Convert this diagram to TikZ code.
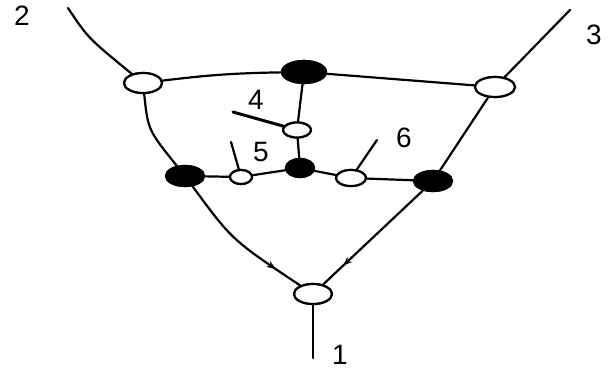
\documentclass[tikz,border=0pt]{standalone}
\usepackage{fontspec}
\setmainfont{Liberation Sans}
\usetikzlibrary{shapes.geometric,decorations.markings,arrows.meta}
\begin{document}
\begin{tikzpicture}[x=1pt,y=-1pt,line width=2.2pt,line cap=round,
  wnode/.style={draw,ellipse,fill=white,inner sep=0pt,line width=2.2pt},
  bnode/.style={draw,ellipse,fill=black,inner sep=0pt,line width=2.2pt},
  lbl/.style={font=\fontsize{28}{30}\selectfont},
  midarrow/.style={postaction={decorate},decoration={markings,mark=at position #1 with {\arrow{Stealth[length=9pt,width=7pt]}}}}]
\useasboundingbox (0,0) rectangle (616,371);
% nodes
\node[wnode,minimum width=38pt,minimum height=20pt] (A) at (143,83) {};
\node[bnode,minimum width=44pt,minimum height=22pt] (B) at (304,72) {};
\node[wnode,minimum width=40pt,minimum height=20pt] (C) at (495,87) {};
\node[wnode,minimum width=28pt,minimum height=15pt] (D) at (297,130) {};
\node[bnode,minimum width=28pt,minimum height=18pt] (E) at (300,168) {};
\node[bnode,minimum width=38pt,minimum height=20pt] (F) at (185,176) {};
\node[wnode,minimum width=22pt,minimum height=14pt] (G) at (241,177) {};
\node[wnode,minimum width=30pt,minimum height=16pt] (H) at (351,178) {};
\node[bnode,minimum width=38pt,minimum height=20pt] (I) at (433,181) {};
\node[wnode,minimum width=38pt,minimum height=20pt] (J) at (313,294) {};
% free ends
\coordinate (s2) at (68,8);
\coordinate (s3) at (570,10);
\coordinate (s1) at (313,358);
\coordinate (p4) at (233,112);
\coordinate (p5) at (231,142);
\coordinate (p6) at (377,140);
% labels
\node[lbl] (l2) at (22,16) {2};
\node[lbl] (l3) at (594,35) {3};
\node[lbl] (l4) at (256,100) {4};
\node[lbl] (l5) at (261,152) {5};
\node[lbl] (l6) at (404,138) {6};
\node[lbl] (l1) at (340,355) {1};
% connectors
\draw (s2) .. controls (88,38) .. (A);
\draw (s3) -- (C);
\draw (A) to[bend left=3] (B);
\draw (B) -- (C);
\draw (B) -- (D);
\draw (D) -- (E);
\draw (E) -- (G);
\draw (G) -- (F);
\draw (E) -- (H);
\draw (H) -- (I);
\draw (A) .. controls (148,130) .. (F);
\draw (C) -- (I);
\draw[midarrow=0.8] (F) .. controls (232,240) .. (J);
\draw[midarrow=0.8] (I) -- (J);
\draw (J) -- (s1);
\draw[line width=3pt] (p4) -- (D);
\draw (p5) -- (G);
\draw (p6) -- (H);
% redraw nodes on top
\node[wnode,minimum width=38pt,minimum height=20pt] at (143,83) {};
\node[bnode,minimum width=44pt,minimum height=22pt] at (304,72) {};
\node[wnode,minimum width=40pt,minimum height=20pt] at (495,87) {};
\node[wnode,minimum width=28pt,minimum height=15pt] at (297,130) {};
\node[bnode,minimum width=28pt,minimum height=18pt] at (300,168) {};
\node[bnode,minimum width=38pt,minimum height=20pt] at (185,176) {};
\node[wnode,minimum width=22pt,minimum height=14pt] at (241,177) {};
\node[wnode,minimum width=30pt,minimum height=16pt] at (351,178) {};
\node[bnode,minimum width=38pt,minimum height=20pt] at (433,181) {};
\node[wnode,minimum width=38pt,minimum height=20pt] at (313,294) {};
\end{tikzpicture}
\end{document}
